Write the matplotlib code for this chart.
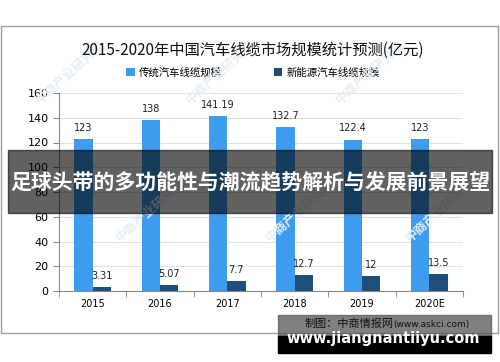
import matplotlib.pyplot as plt
import matplotlib.patches as patches
import numpy as np

plt.rcParams['font.family'] = ['Noto Sans CJK SC', 'DejaVu Sans']

years = ['2015', '2016', '2017', '2018', '2019', '2020E']
traditional = [123, 138, 141.19, 132.7, 122.4, 123]
new_energy = [3.31, 5.07, 7.7, 12.7, 12, 13.5]
trad_labels = ['123', '138', '141.19', '132.7', '122.4', '123']
ne_labels = ['3.31', '5.07', '7.7', '12.7', '12', '13.5']

fig = plt.figure(figsize=(5, 3.62), dpi=100)
fig.patch.set_facecolor('white')

# outer chart border
fig.patches.append(patches.Rectangle((0.002, 1 - 333 / 362), 0.994, (333 - 26) / 362,
                                     transform=fig.transFigure, fill=False,
                                     edgecolor='#a0a0a0', lw=1))

# faint watermarks
for wx, wy in [(0.14, 0.8), (0.44, 0.8), (0.74, 0.8),
               (0.3, 0.42), (0.6, 0.42), (0.88, 0.42)]:
    fig.text(wx, wy, '中商产业研究院', fontsize=9, color='#e3eef8', rotation=42,
             ha='center', va='center', zorder=0, fontweight='bold')

ax = fig.add_axes([0.118, 1 - 291 / 362, 0.808, (291 - 93) / 362])
ax.set_facecolor('none')
x = np.arange(len(years))
w = 0.27
ax.bar(x - w / 2, traditional, w, color='#3d9cf0', label='传统汽车线缆规模', zorder=3)
ax.bar(x + w / 2, new_energy, w, color='#1f4e79', label='新能源汽车线缆规模', zorder=3)

for i in range(len(years)):
    ax.text(x[i] - w / 2, traditional[i] + 5, trad_labels[i], ha='center', va='bottom',
            fontsize=7, color='#222222', family='DejaVu Sans')
    ax.text(x[i] + w / 2, new_energy[i] + 5, ne_labels[i], ha='center', va='bottom',
            fontsize=7, color='#222222', family='DejaVu Sans')

ax.set_xlim(-0.5, 5.5)
ax.set_ylim(0, 160)
ax.set_yticks(range(0, 161, 20))
ax.set_xticks(x)
ax.set_xticklabels(years, fontsize=7, family='DejaVu Sans')
ax.set_xticks(np.arange(-0.5, 6, 1), minor=True)
ax.tick_params(axis='x', which='major', length=0, pad=6)
ax.tick_params(axis='x', which='minor', length=4, color='#888888')
ax.tick_params(axis='y', labelsize=8, length=4, color='#888888')
for lab in ax.get_yticklabels():
    lab.set_family('DejaVu Sans')
ax.grid(axis='y', color='#e0e0e0', lw=0.8, zorder=0)
for s in ['top', 'right']:
    ax.spines[s].set_visible(False)
ax.spines['left'].set_color('#888888')
ax.spines['bottom'].set_color('#888888')

fig.text(0.506, 1 - 50 / 362, '2015-2020年中国汽车线缆市场规模统计预测(亿元)',
         ha='center', va='center', fontsize=11, color='#111111')
ax.legend(loc='lower center', bbox_to_anchor=(0.48, 1.03), ncol=2, frameon=False,
          fontsize=7.5, handlelength=0.8, handleheight=0.8, columnspacing=5,
          handletextpad=0.4)

# banner overlay
fig.patches.append(patches.Rectangle((8 / 500, 1 - 213 / 362), 484 / 500, 63 / 362,
                                     transform=fig.transFigure, color='#000000',
                                     alpha=0.62, zorder=10))
fig.text(0.5, 1 - 182 / 362, '足球头带的多功能性与潮流趋势解析与发展前景展望',
         ha='center', va='center', fontsize=15, color='white', fontweight='bold',
         zorder=11)

# bottom source / site box
fig.patches.append(patches.Rectangle((278 / 500, 1 - 336 / 362), 213 / 500, 21 / 362,
                                     transform=fig.transFigure, color='#555555',
                                     alpha=0.75, zorder=10))
fig.patches.append(patches.Rectangle((278 / 500, 1 - 353 / 362), 213 / 500, 17 / 362,
                                     transform=fig.transFigure, color='#000000',
                                     zorder=10))
fig.text(0.61, 1 - 324 / 362, '制图：中商情报网', ha='left', va='center',
         fontsize=8, color='#111111', zorder=11)
fig.text(0.786, 1 - 324 / 362, '(www.askci.com)', ha='left', va='center',
         fontsize=6.5, color='#111111', zorder=11, family='DejaVu Sans')
fig.text(0.767, 1 - 338 / 362, 'www.jiangnantiiyu.com', ha='center', va='center',
         fontsize=10.5, color='white', fontweight='bold', zorder=11,
         family='DejaVu Sans')

fig.savefig('out.png', dpi=100)
